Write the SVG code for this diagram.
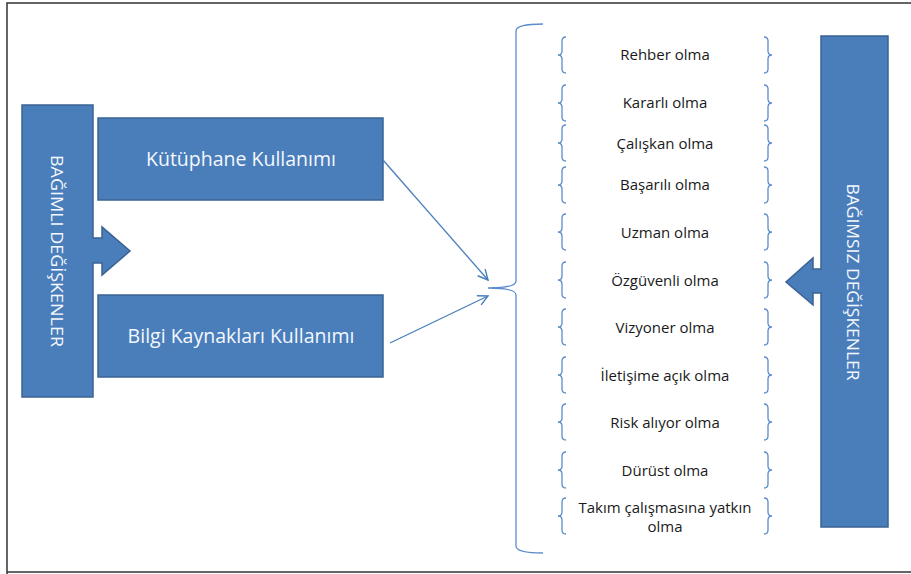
<svg xmlns="http://www.w3.org/2000/svg" width="911" height="574" viewBox="0 0 911 574">
<defs>
<style>
.shape{fill:#4a7ebb;stroke:#3a6394;stroke-width:1.5}
.wt{fill:#f4f7fc;font-family:"Open Sans","Noto Sans",sans-serif;text-anchor:middle}
.it{fill:#1a1a1a;font-family:"Open Sans","Noto Sans",sans-serif;font-size:15px;text-anchor:middle}
.br{fill:none;stroke:#5b8ccc;stroke-width:1.3}
.con{fill:none;stroke:#4a7ebb;stroke-width:1.3}
</style>
<marker id="ah" viewBox="0 0 12 12" refX="11" refY="6" markerWidth="12" markerHeight="12" markerUnits="userSpaceOnUse" orient="auto">
<path d="M1,1 L11,6 L1,11" fill="none" stroke="#4a7ebb" stroke-width="1.4"/>
</marker>
<path id="lb" d="M4,0 Q0,0 0,4 L0,14 Q0,18 -4,18 Q0,18 0,22 L0,32 Q0,36 4,36"/>
<path id="rb" d="M-4,0 Q0,0 0,4 L0,14 Q0,18 4,18 Q0,18 0,22 L0,32 Q0,36 -4,36"/>
</defs>
<rect width="911" height="574" fill="#fff"/>
<path d="M7,574 V3 H911 M7,572 H911" fill="none" stroke="#333" stroke-width="1.5"/>

<g id="bagimli">
<path class="shape" d="M22,105 H93 V238 H102 V227 L130,251 L102,275 V263 H93 V397 H22 Z"/>
<text class="wt" font-size="16" transform="translate(51,251) rotate(90)" textLength="192" lengthAdjust="spacingAndGlyphs">BAĞIMLI DEĞİŞKENLER</text>
</g>

<g id="kutuphane">
<rect class="shape" x="98" y="118" width="285" height="82"/>
<text class="wt" font-size="19.5" x="241" y="166">Kütüphane Kullanımı</text>
</g>

<g id="bilgi">
<rect class="shape" x="98" y="295" width="285" height="82"/>
<text class="wt" font-size="19.5" x="241" y="343">Bilgi Kaynakları Kullanımı</text>
</g>

<g id="bagimsiz">
<path class="shape" d="M821,36 H888 V527 H821 V293 H813 V305 L786,282 L813,258 V269 H821 Z"/>
<text class="wt" font-size="16" transform="translate(847,282) rotate(90)" textLength="197" lengthAdjust="spacingAndGlyphs">BAĞIMSIZ DEĞİŞKENLER</text>
</g>

<g id="bigbrace">
<path class="br" d="M543,24 Q516,24 516,31 L516,281 Q516,288 488,288 Q516,288 516,295 L516,546 Q516,553 543,553"/>
</g>

<g id="items">
<g id="i1"><use href="#lb" class="br" x="562" y="37"/><use href="#rb" class="br" x="768" y="37"/><text class="it" x="665" y="60">Rehber olma</text></g>
<g id="i2"><use href="#lb" class="br" x="562" y="85"/><use href="#rb" class="br" x="768" y="85"/><text class="it" x="665" y="108">Kararlı olma</text></g>
<g id="i3"><use href="#lb" class="br" x="562" y="125"/><use href="#rb" class="br" x="768" y="125"/><text class="it" x="665" y="149">Çalışkan olma</text></g>
<g id="i4"><use href="#lb" class="br" x="562" y="167"/><use href="#rb" class="br" x="768" y="167"/><text class="it" x="665" y="190">Başarılı olma</text></g>
<g id="i5"><use href="#lb" class="br" x="562" y="214"/><use href="#rb" class="br" x="768" y="214"/><text class="it" x="665" y="238">Uzman olma</text></g>
<g id="i6"><use href="#lb" class="br" x="562" y="262"/><use href="#rb" class="br" x="768" y="262"/><text class="it" x="665" y="286">Özgüvenli olma</text></g>
<g id="i7"><use href="#lb" class="br" x="562" y="309"/><use href="#rb" class="br" x="768" y="309"/><text class="it" x="665" y="333">Vizyoner olma</text></g>
<g id="i8"><use href="#lb" class="br" x="562" y="357"/><use href="#rb" class="br" x="768" y="357"/><text class="it" x="665" y="381">İletişime açık olma</text></g>
<g id="i9"><use href="#lb" class="br" x="562" y="404"/><use href="#rb" class="br" x="768" y="404"/><text class="it" x="665" y="428">Risk alıyor olma</text></g>
<g id="i10"><use href="#lb" class="br" x="562" y="452"/><use href="#rb" class="br" x="768" y="452"/><text class="it" x="665" y="476">Dürüst olma</text></g>
<g id="i11"><use href="#lb" class="br" x="562" y="498"/><use href="#rb" class="br" x="768" y="498"/><text class="it" x="665" y="513">Takım çalışmasına yatkın</text><text class="it" x="665" y="532">olma</text></g>
</g>

<g id="connectors">
<line class="con" x1="383" y1="160" x2="488" y2="280" marker-end="url(#ah)"/>
<line class="con" x1="390" y1="343" x2="488" y2="296" marker-end="url(#ah)"/>
</g>
</svg>
